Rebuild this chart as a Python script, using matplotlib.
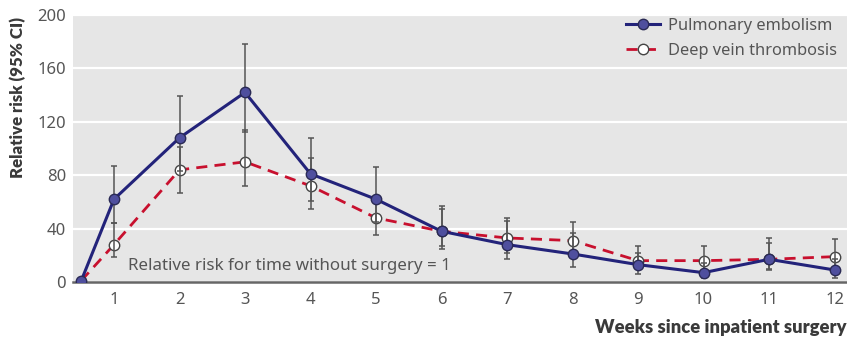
import numpy as np
import matplotlib
matplotlib.use("Agg")
import matplotlib.pyplot as plt

# ==============================
# DATA
# ==============================

weeks = [0.5, 1, 2, 3, 4, 5, 6, 7, 8, 9, 10, 11, 12]
week_ticks = [1, 2, 3, 4, 5, 6, 7, 8, 9, 10, 11, 12]

pe_rr = [1, 62, 108, 142, 81, 62, 38, 28, 21, 13, 7, 17, 9]
pe_lo = [1, 44, 83, 112, 61, 45, 25, 17, 11, 6, 3, 10, 3]
pe_hi = [1, 87, 139, 178, 108, 86, 57, 46, 37, 22, 14, 29, 17]

dvt_rr = [1, 28, 84, 90, 72, 48, 38, 33, 31, 16, 16, 17, 19]
dvt_lo = [1, 19, 67, 72, 55, 35, 27, 22, 20, 10, 9, 9, 10]
dvt_hi = [1, 44, 101, 114, 93, 64, 55, 48, 45, 27, 27, 33, 32]

y_ticks = [0, 40, 80, 120, 160, 200]

# ==============================
# STYLE
# ==============================

BG = "#e6e6e6"
NAVY = "#23237a"
NAVY_FACE = "#4f4f9e"
RED = "#c8102e"
ERR = "#555555"
TXT = "#555555"
LAB = "#3a3a3a"

plt.rcParams["font.family"] = ["Noto Sans", "DejaVu Sans"]

fig = plt.figure(figsize=(8.47, 3.46), dpi=100)
ax = fig.add_axes([73 / 847, 64 / 346, 1 - 73 / 847, 267 / 346])
ax.set_facecolor(BG)

x = np.array(weeks)

# DVT line (under error bars)
ax.plot(x, dvt_rr, color=RED, lw=2.0, dashes=(4, 2.6), zorder=3)
ax.plot(x[1:], dvt_rr[1:], ls="none", marker="o", ms=7.5,
        mfc="white", mec="#444444", mew=1.0, zorder=3)

# error bars
for rr, lo, hi in [(pe_rr, pe_lo, pe_hi), (dvt_rr, dvt_lo, dvt_hi)]:
    rr = np.array(rr[1:])
    yerr = [rr - np.array(lo[1:]), np.array(hi[1:]) - rr]
    ax.errorbar(x[1:], rr, yerr=yerr, fmt="none", ecolor=ERR,
                elinewidth=1.1, capsize=2.2, capthick=1.1, zorder=4)

# PE line on top
ax.plot(x, pe_rr, color=NAVY, lw=2.2, marker="o", ms=7.5,
        mfc=NAVY_FACE, mec="#2a2a55", mew=1.0, zorder=5)

# legend handles
h_pe, = ax.plot([], [], color=NAVY, lw=2.2, marker="o", ms=7.5,
                mfc=NAVY_FACE, mec="#2a2a55", mew=1.0)
h_dvt, = ax.plot([], [], color=RED, lw=2.0, dashes=(4, 2.6), marker="o",
                 ms=7.5, mfc="white", mec="#444444", mew=1.0)
leg = ax.legend([h_pe, h_dvt], ["Pulmonary embolism", "Deep vein thrombosis"],
                loc="upper right", bbox_to_anchor=(1.0, 1.025),
                frameon=False, fontsize=11.8,
                handlelength=2.1, handletextpad=0.5, labelspacing=0.55,
                borderaxespad=0.2, labelcolor=TXT)

ax.text(1.21, 12, "Relative risk for time without surgery = 1",
        fontsize=12.2, color=TXT, va="center", ha="left", zorder=2)

# axes
ax.set_xlim(0.374, 12.19)
ax.set_ylim(0, 200)
ax.set_xticks(week_ticks)
ax.set_yticks(y_ticks)
ax.grid(axis="y", color="white", lw=1.6, zorder=0)
ax.set_axisbelow(True)
for s in ["top", "right", "left"]:
    ax.spines[s].set_visible(False)
ax.spines["bottom"].set_color("#666666")
ax.spines["bottom"].set_linewidth(1.8)
ax.tick_params(axis="both", length=0, labelsize=12, colors=TXT, pad=5)
ax.tick_params(axis="x", pad=7)

fig.text(18 / 847, 1 - 98 / 346, "Relative risk (95% CI)", rotation=90,
         fontsize=12.2, fontweight="heavy", family="Lato", color=LAB,
         ha="center", va="center")
fig.text(0.999, 0.03, "Weeks since inpatient surgery", fontsize=13.2,
         fontweight="heavy", family="Lato", color=LAB, ha="right", va="bottom")

fig.savefig("out.png", dpi=100, facecolor="white")
